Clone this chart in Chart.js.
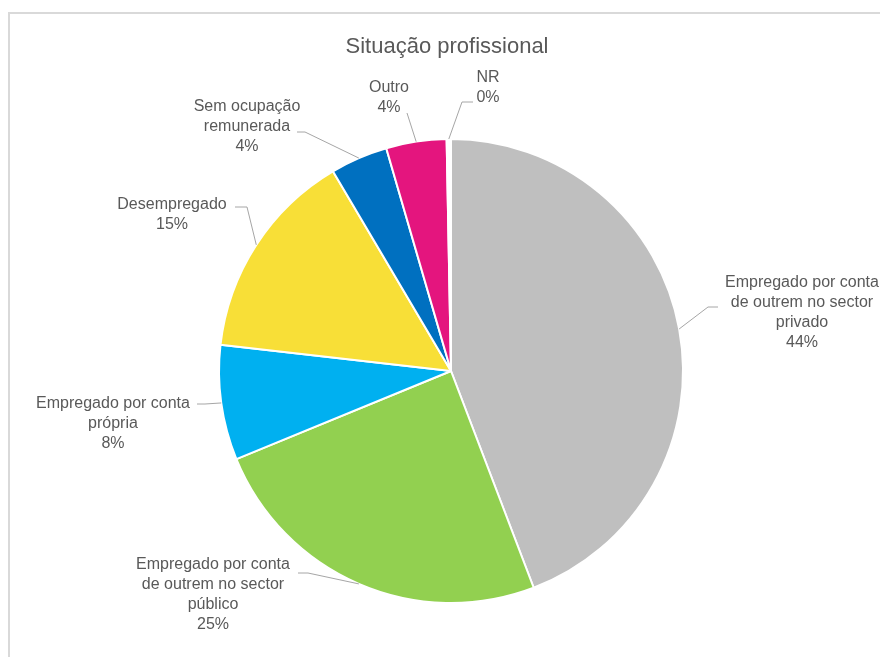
<!DOCTYPE html>
<html>
<head>
<meta charset="utf-8">
<script src="https://cdn.jsdelivr.net/npm/chart.js@4.4.1/dist/chart.umd.min.js"></script>
<style>
  html, body { margin: 0; padding: 0; background: #ffffff; }
  #wrap { width: 880px; height: 657px; position: relative; }
</style>
</head>
<body>
<div id="wrap"><canvas id="c" width="880" height="657"></canvas></div>
<script>
// ---- data ----
const chartTitle = 'Situação profissional';
const categories = [
  'Empregado por conta de outrem no sector privado',
  'Empregado por conta de outrem no sector público',
  'Empregado por conta própria',
  'Desempregado',
  'Sem ocupação remunerada',
  'Outro',
  'NR'
];
const labelLines = [
  ['Empregado por conta', 'de outrem no sector', 'privado'],
  ['Empregado por conta', 'de outrem no sector', 'público'],
  ['Empregado por conta', 'própria'],
  ['Desempregado'],
  ['Sem ocupação', 'remunerada'],
  ['Outro'],
  ['NR']
];
const percentValues = [44.2, 24.6, 8.0, 14.7, 4.0, 4.2, 0.3];
const sliceColors = ['#bfbfbf', '#92d050', '#00b0f0', '#f8df37', '#0070c0', '#e4157e', '#ffffff'];

// label placement (text centre x, first line y, elbow point, line end point)
const labelLayout = [
  { cx: 802, y: 283, elbow: [708, 307], end: [718, 307] },
  { cx: 213, y: 565, elbow: [308, 573], end: [298, 573] },
  { cx: 113, y: 404, elbow: [205, 404], end: [197, 404] },
  { cx: 172, y: 205, elbow: [247, 207], end: [235, 207] },
  { cx: 247, y: 107, elbow: [305, 132], end: [297, 132] },
  { cx: 389, y: 88,  elbow: [407, 113], end: [407, 113] },
  { cx: 488, y: 78,  elbow: [462, 102], end: [473, 102] }
];

const FONT = "'Liberation Sans', Arial, Helvetica, sans-serif";
const TEXT_COLOR = '#595959';

const labelPlugin = {
  id: 'labelPlugin',
  beforeDraw(chart) {
    const ctx = chart.ctx;
    ctx.save();
    ctx.fillStyle = '#ffffff';
    ctx.fillRect(0, 0, chart.width, chart.height);
    ctx.strokeStyle = '#d9d9d9';
    ctx.lineWidth = 2;
    ctx.strokeRect(9, 13, 1000, 1000);
    ctx.restore();
  },
  afterDraw(chart) {
    const ctx = chart.ctx;
    const meta = chart.getDatasetMeta(0);
    ctx.save();
    // title
    ctx.fillStyle = TEXT_COLOR;
    ctx.font = '22px ' + FONT;
    ctx.textAlign = 'center';
    ctx.textBaseline = 'middle';
    ctx.fillText(chartTitle, 447, 47);
    // leader lines + labels
    ctx.font = '16px ' + FONT;
    meta.data.forEach((arc, i) => {
      const p = arc.getProps(['x', 'y', 'startAngle', 'endAngle', 'outerRadius'], true);
      const mid = (p.startAngle + p.endAngle) / 2;
      const ex = p.x + Math.cos(mid) * p.outerRadius;
      const ey = p.y + Math.sin(mid) * p.outerRadius;
      const L = labelLayout[i];
      ctx.strokeStyle = '#a6a6a6';
      ctx.lineWidth = 1;
      ctx.beginPath();
      ctx.moveTo(ex, ey);
      ctx.lineTo(L.elbow[0], L.elbow[1]);
      ctx.lineTo(L.end[0], L.end[1]);
      ctx.stroke();
      const lines = labelLines[i].concat([Math.round(percentValues[i]) + '%']);
      ctx.fillStyle = TEXT_COLOR;
      lines.forEach((t, k) => ctx.fillText(t, L.cx, L.y + k * 20));
    });
    ctx.restore();
  }
};

new Chart(document.getElementById('c'), {
  type: 'pie',
  data: {
    labels: categories,
    datasets: [{
      data: percentValues,
      backgroundColor: sliceColors,
      borderColor: '#ffffff',
      borderWidth: 2,
      hoverOffset: 0,
      offset: 0
    }]
  },
  options: {
    responsive: false,
    animation: false,
    devicePixelRatio: 1,
    rotation: 0,
    layout: { padding: { top: 138, bottom: 53, left: 218, right: 196 } },
    plugins: {
      legend: { display: false },
      title: { display: false },
      tooltip: { enabled: false }
    }
  },
  plugins: [labelPlugin]
});
</script>
</body>
</html>
